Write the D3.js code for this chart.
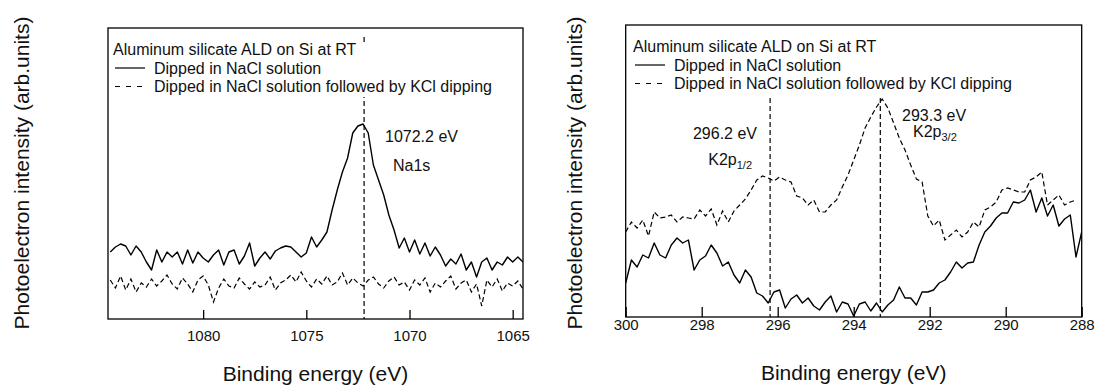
<!DOCTYPE html>
<html>
<head>
<meta charset="utf-8">
<script src="https://cdn.jsdelivr.net/npm/d3@7"></script>
<style>
  body { margin: 0; background: #fff; }
  svg { display: block; font-family: "Liberation Sans", Arial, sans-serif; }
</style>
</head>
<body>
<svg id="chart" width="1099" height="385"></svg>
<script>
// Na1s region (left panel), energies from naStart downwards in naStep
const naStart = 1084.5;
const naStep = 0.25;
const naSolid = [67, 72, 75, 73, 64, 73, 67, 57, 49, 69,
  57, 67, 62, 67, 55, 69, 56, 67, 61, 57,
  64, 69, 54, 67, 69, 55, 63, 76, 53, 61,
  67, 60, 68, 71, 73, 72, 67, 62, 66, 82,
  72, 79, 87, 109, 129, 147, 161, 186, 193, 195,
  186, 154, 139, 124, 104, 89, 71, 81, 67, 79,
  65, 76, 63, 72, 64, 53, 60, 55, 65, 49,
  57, 42, 57, 61, 49, 57, 54, 62, 57, 62,
  57];
const naDashed = [39, 31, 43, 29, 40, 27, 36, 32, 40, 33,
  38, 44, 35, 30, 41, 35, 27, 39, 43, 34,
  17, 31, 40, 33, 31, 41, 35, 30, 37, 32,
  34, 42, 29, 36, 39, 44, 37, 47, 38, 32,
  40, 35, 43, 34, 37, 46, 34, 41, 36, 33,
  39, 42, 35, 31, 38, 42, 34, 37, 29, 39,
  34, 41, 27, 36, 32, 38, 43, 30, 36, 39,
  27, 35, 13, 39, 32, 40, 28, 36, 33, 38,
  30];
const naTicks = [1080, 1075, 1070, 1065];
const naPeak = 1072.2;

// K2p region (right panel)
const kStart = 300;
const kStep = 0.15;
const kSolid = [34, 57, 50, 62, 59, 74, 62, 59, 72, 79,
  74, 77, 47, 57, 61, 72, 64, 51, 55, 42,
  34, 47, 40, 24, 21, 14, 25, 27, 9, 18,
  22, 14, 19, 11, 7, 15, 21, 5, 15, 13,
  1, 13, 15, 6, 14, 5, 12, 17, 30, 19,
  19, 12, 25, 25, 27, 34, 37, 45, 55, 49,
  54, 55, 72, 85, 91, 99, 104, 104, 115, 114,
  117, 127, 105, 119, 101, 112, 91, 98, 102, 60,
  85];
const kDashed = [85, 95, 89, 97, 81, 105, 99, 100, 102, 95,
  100, 99, 98, 107, 101, 108, 92, 106, 95, 106,
  112, 118, 127, 137, 141, 139, 136, 140, 137, 135,
  121, 119, 112, 117, 105, 105, 112, 117, 130, 142,
  157, 172, 189, 200, 210, 218, 209, 194, 179, 167,
  152, 138, 135, 101, 91, 97, 77, 82, 87, 80,
  85, 95, 90, 107, 110, 115, 127, 129, 127, 125,
  125, 137, 140, 145, 112, 117, 122, 112, 115, 117];
const kTicks = [300, 298, 296, 294, 292, 290, 288];
const kPeaks = [296.2, 293.3];

const legendTitle = 'Aluminum silicate ALD on Si at RT';
const legendItems = ['Dipped in NaCl solution', 'Dipped in NaCl solution followed by KCl dipping'];

const svg = d3.select('#chart');
svg.append('rect').attr('width', 1099).attr('height', 385).attr('fill', '#fff');

function toPoints(start, step, values) {
  return values.map((v, i) => ({ e: start - i * step, v: v }));
}

function drawPanel(p) {
  const g = svg.append('g');
  const x = d3.scaleLinear().domain(p.xDomain).range([p.left, p.right]);
  const y = d3.scaleLinear().domain([0, p.bottom - p.top]).range([p.bottom, p.top]);

  const clipId = 'clip' + p.id;
  svg.append('clipPath').attr('id', clipId)
    .append('rect')
    .attr('x', p.left).attr('y', p.top)
    .attr('width', p.right - p.left).attr('height', p.bottom - p.top);

  const line = d3.line().x(d => x(d.e)).y(d => y(d.v));

  // peak markers
  for (const pk of p.peaks) {
    g.append('line')
      .attr('x1', x(pk)).attr('x2', x(pk))
      .attr('y1', p.markTop).attr('y2', p.bottom)
      .attr('stroke', '#000').attr('stroke-width', 1.2)
      .attr('stroke-dasharray', '5,3');
  }

  if (p.legendBg) {
    g.append('rect')
      .attr('x', p.left + 3).attr('y', p.legendBg[0])
      .attr('width', 395).attr('height', p.legendBg[1] - p.legendBg[0])
      .attr('fill', '#fff');
  }

  const curves = g.append('g').attr('clip-path', `url(#${clipId})`);
  curves.append('path')
    .datum(toPoints(p.start, p.step, p.dashed))
    .attr('d', line)
    .attr('fill', 'none').attr('stroke', '#000').attr('stroke-width', 1.2)
    .attr('stroke-dasharray', '5,3');
  curves.append('path')
    .datum(toPoints(p.start, p.step, p.solid))
    .attr('d', line)
    .attr('fill', 'none').attr('stroke', '#000').attr('stroke-width', 1.4)
    .attr('stroke-linejoin', 'round');

  // frame
  g.append('rect')
    .attr('x', p.left).attr('y', p.top)
    .attr('width', p.right - p.left).attr('height', p.bottom - p.top)
    .attr('fill', 'none').attr('stroke', '#000').attr('stroke-width', 1.3);

  const axis = d3.axisBottom(x)
    .tickValues(p.ticks)
    .tickFormat(d3.format('d'))
    .tickSizeInner(-p.tickLen)
    .tickSizeOuter(0)
    .tickPadding(p.tickPad);
  const ax = g.append('g')
    .attr('transform', `translate(0,${p.bottom})`)
    .call(axis);
  ax.select('.domain').remove();
  ax.selectAll('line').attr('stroke', '#000').attr('stroke-width', 1.3);
  ax.selectAll('text')
    .attr('fill', '#111')
    .style('font-size', '15px')
    .style('font-family', '"Liberation Sans", Arial, sans-serif');

  // axis titles
  g.append('text')
    .attr('x', (p.left + p.right) / 2).attr('y', p.xTitleY)
    .attr('text-anchor', 'middle')
    .style('font-size', '21px').attr('fill', '#111')
    .text('Binding energy (eV)');
  g.append('text')
    .attr('transform', `translate(${p.yTitleX},173)rotate(-90)`)
    .attr('text-anchor', 'middle')
    .attr('dy', '0.35em')
    .style('font-size', '21px').attr('fill', '#111')
    .text('Photoelectron intensity (arb.units)');

  // legend
  const lg = p.legend;
  g.append('text').attr('x', lg.x).attr('y', lg.y0)
    .style('font-size', '16px').attr('fill', '#111')
    .text(legendTitle);
  legendItems.forEach((t, i) => {
    const base = lg.y0 + 18.5 * (i + 1);
    g.append('line')
      .attr('x1', lg.x + 2).attr('x2', lg.x + 32)
      .attr('y1', base - 5.5).attr('y2', base - 5.5)
      .attr('stroke', '#000').attr('stroke-width', 1.2)
      .attr('stroke-dasharray', i === 0 ? null : '5,6');
    g.append('text').attr('x', lg.x + 41).attr('y', base)
      .style('font-size', '16px').attr('fill', '#111')
      .text(t);
  });

  // annotations
  for (const a of p.notes) {
    const t = g.append('text')
      .attr('x', a.x).attr('y', a.y)
      .attr('text-anchor', a.anchor)
      .style('font-size', '16px').attr('fill', '#111')
      .text(a.text);
    if (a.sub) {
      t.append('tspan').attr('dy', 4).style('font-size', '11px').text(a.sub);
    }
  }
}

drawPanel({
  id: 'na', left: 108, right: 523, top: 28, bottom: 319,
  xDomain: [1084.61, 1064.5],
  start: naStart, step: naStep, solid: naSolid, dashed: naDashed,
  ticks: naTicks, tickLen: 9, tickPad: 11,
  peaks: [naPeak], markTop: 37, legendBg: [42, 97],
  xTitleY: 381, yTitleX: 22,
  legend: { x: 113, y0: 55 },
  notes: [
    { x: 385, y: 142, anchor: 'start', text: naPeak.toFixed(1) + ' eV' },
    { x: 393, y: 171, anchor: 'start', text: 'Na1s' }
  ]
});

drawPanel({
  id: 'k', left: 625.7, right: 1081.7, top: 25, bottom: 317,
  xDomain: [300, 288],
  start: kStart, step: kStep, solid: kSolid, dashed: kDashed,
  ticks: kTicks, tickLen: 10, tickPad: 2,
  peaks: kPeaks, markTop: 98, legendBg: null,
  xTitleY: 380, yTitleX: 575,
  legend: { x: 633, y0: 52 },
  notes: [
    { x: 757, y: 139, anchor: 'end', text: kPeaks[0].toFixed(1) + ' eV' },
    { x: 752, y: 165, anchor: 'end', text: 'K2p', sub: '1/2' },
    { x: 902, y: 121, anchor: 'start', text: kPeaks[1].toFixed(1) + ' eV' },
    { x: 913, y: 137, anchor: 'start', text: 'K2p', sub: '3/2' }
  ]
});
</script>
</body>
</html>
